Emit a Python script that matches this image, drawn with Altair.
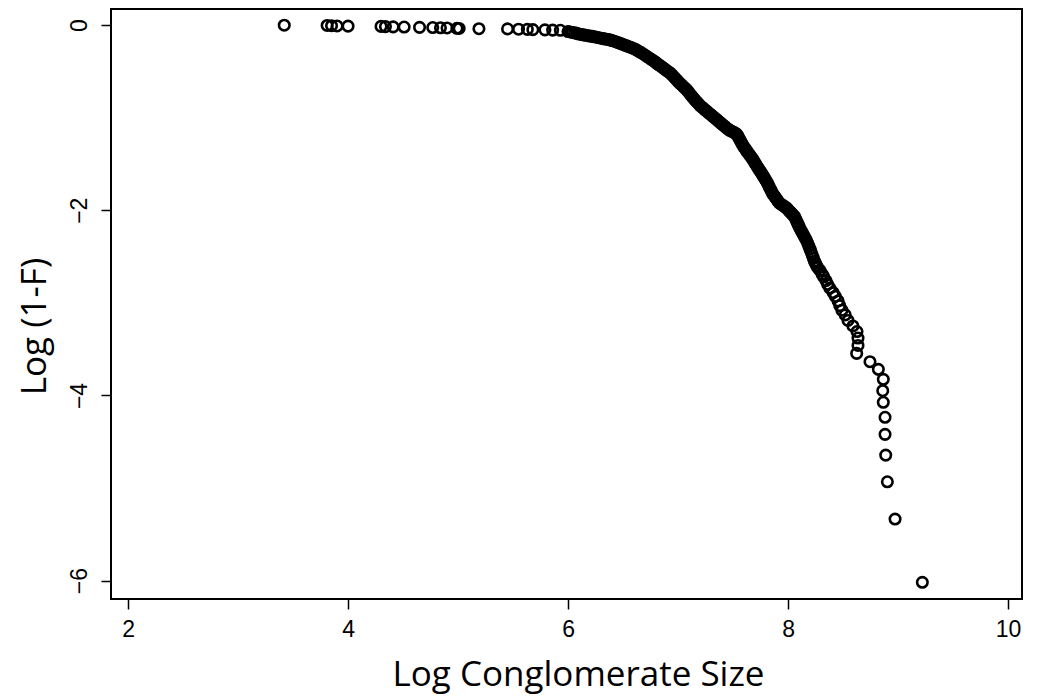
import altair as alt
import pandas as pd

# Sparse points near the top (Log (1-F) ~ 0)
sparse_x = [3.42, 3.81, 3.85, 3.90, 4.00, 4.30, 4.34, 4.41, 4.51, 4.65, 4.77, 4.84,
            4.90, 4.99, 5.01, 5.19, 5.45, 5.55, 5.63, 5.68, 5.79, 5.86, 5.93]
sparse_y = [-0.002, -0.005, -0.007, -0.010, -0.012, -0.015, -0.017, -0.020, -0.022,
            -0.025, -0.027, -0.030, -0.032, -0.035, -0.037, -0.040, -0.042, -0.045,
            -0.047, -0.050, -0.052, -0.055, -0.057]

# Dense band of points
band_x = [6.00, 6.02, 6.04, 6.06, 6.08, 6.10, 6.12, 6.14, 6.16, 6.18, 6.20, 6.22, 6.24,
          6.26, 6.28, 6.30, 6.32, 6.34, 6.36, 6.38,
          6.40, 6.42, 6.44, 6.46, 6.48, 6.50, 6.52, 6.54, 6.56, 6.58, 6.60, 6.62, 6.64,
          6.66, 6.68, 6.70, 6.72, 6.74, 6.76, 6.78,
          6.795, 6.81, 6.825, 6.84, 6.855, 6.87, 6.885, 6.90, 6.915, 6.93, 6.945, 6.96,
          6.975, 6.99, 7.005, 7.02, 7.035, 7.05, 7.065, 7.08, 7.095, 7.11, 7.125, 7.14,
          7.155, 7.17, 7.185, 7.20, 7.215, 7.23, 7.245, 7.26, 7.275, 7.29, 7.305, 7.32,
          7.335, 7.35, 7.365, 7.38,
          7.395, 7.41, 7.425, 7.44, 7.455, 7.47, 7.485, 7.50, 7.515, 7.53, 7.54, 7.55,
          7.56, 7.57, 7.58, 7.59, 7.60, 7.61, 7.62, 7.63, 7.64, 7.65, 7.66, 7.67, 7.68,
          7.69, 7.70, 7.71, 7.72, 7.73, 7.74, 7.75, 7.76, 7.77, 7.78, 7.79, 7.80, 7.81,
          7.82, 7.83, 7.84, 7.85, 7.86, 7.87, 7.88, 7.89, 7.90, 7.91, 7.92, 7.935, 7.95,
          7.965, 7.98, 7.99,
          8.00, 8.01, 8.02, 8.03, 8.04, 8.05, 8.06, 8.068, 8.076, 8.084, 8.092, 8.10,
          8.11, 8.12, 8.13, 8.14, 8.15, 8.16, 8.17, 8.18, 8.19, 8.20, 8.21, 8.22, 8.23,
          8.24, 8.25, 8.26, 8.27]
band_y = [-0.070, -0.075, -0.080, -0.085, -0.090, -0.097, -0.102, -0.106, -0.110, -0.115,
          -0.119, -0.123, -0.127, -0.132, -0.137, -0.142, -0.147, -0.151, -0.156, -0.160,
          -0.168, -0.175, -0.183, -0.192, -0.201, -0.210, -0.219, -0.228, -0.237, -0.246,
          -0.256, -0.268, -0.281, -0.295, -0.310, -0.326, -0.342, -0.358, -0.373, -0.388,
          -0.402, -0.416, -0.429, -0.442, -0.455, -0.468, -0.481, -0.494, -0.507, -0.520,
          -0.539, -0.558, -0.577, -0.596, -0.616, -0.633, -0.650, -0.667, -0.684, -0.700,
          -0.722, -0.745, -0.768, -0.790, -0.810, -0.830, -0.850, -0.870, -0.885, -0.900,
          -0.915, -0.930, -0.945, -0.960, -0.975, -0.990, -1.005, -1.020, -1.035, -1.050,
          -1.065, -1.080, -1.095, -1.110, -1.125, -1.137, -1.146, -1.155, -1.165, -1.175,
          -1.190, -1.212, -1.234, -1.256, -1.278, -1.300, -1.318, -1.335, -1.352, -1.370,
          -1.386, -1.402, -1.418, -1.434, -1.450, -1.470, -1.490, -1.510, -1.530, -1.548,
          -1.566, -1.584, -1.602, -1.620, -1.640, -1.660, -1.680, -1.700, -1.724, -1.748,
          -1.772, -1.796, -1.820, -1.837, -1.853, -1.870, -1.887, -1.903, -1.920, -1.933,
          -1.946, -1.958, -1.970, -1.980,
          -1.993, -2.006, -2.019, -2.032, -2.045, -2.058, -2.070, -2.091, -2.112, -2.133,
          -2.154, -2.175, -2.200, -2.222, -2.243, -2.265, -2.287, -2.308, -2.330, -2.360,
          -2.390, -2.420, -2.450, -2.483, -2.516, -2.550, -2.575, -2.600, -2.620]

# Separated points along the tail
tail_x = [8.29, 8.31, 8.325, 8.345, 8.36, 8.38, 8.41, 8.43, 8.455, 8.47, 8.49, 8.52,
          8.545, 8.59, 8.627, 8.636, 8.636, 8.624,
          8.745, 8.821, 8.866, 8.861, 8.866, 8.882, 8.882, 8.888, 8.903, 8.973, 9.221]
tail_y = [-2.65, -2.69, -2.72, -2.76, -2.80, -2.84, -2.89, -2.93, -2.98, -3.03, -3.08,
          -3.13, -3.19, -3.25, -3.31, -3.38, -3.46, -3.546,
          -3.636, -3.718, -3.826, -3.949, -4.074, -4.236, -4.42, -4.644, -4.932, -5.335,
          -6.018]

x_ticks = [2, 4, 6, 8, 10]
y_ticks = [0, -2, -4, -6]

df = pd.DataFrame({
    "x": sparse_x + band_x + tail_x,
    "y": sparse_y + band_y + tail_y,
})

chart = alt.Chart(df).mark_point(
    shape="circle", filled=False, color="black", strokeWidth=2.6, size=110, opacity=1
).encode(
    x=alt.X("x:Q", scale=alt.Scale(domain=[1.845, 10.127], nice=False, zero=False),
            axis=alt.Axis(values=x_ticks, title="Log Conglomerate Size", grid=False,
                          domain=False, tickSize=10, tickWidth=1.5, tickColor="black",
                          labelFont="Liberation Sans", labelFontSize=23, labelColor="black",
                          labelPadding=9, labelAngle=0,
                          titleFont="Open Sans", titleFontSize=35, titleFontWeight="normal",
                          titleColor="black", titleBaseline="alphabetic", titleAlign="center",
                          titleX=467, titleY=86)),
    y=alt.Y("y:Q", scale=alt.Scale(domain=[-6.198, 0.173], nice=False, zero=False),
            axis=alt.Axis(values=y_ticks, title="Log (1-F)", grid=False,
                          domain=False, tickSize=10, tickWidth=1.5, tickColor="black",
                          labelFont="Liberation Sans", labelFontSize=23, labelColor="black",
                          labelPadding=10, labelAngle=270, labelAlign="center",
                          labelBaseline="bottom",
                          titleFont="Open Sans", titleFontSize=35, titleFontWeight="normal",
                          titleColor="black", titleAngle=270, titleBaseline="alphabetic",
                          titleAlign="center", titleX=-66, titleY=317)),
).properties(
    width=911,
    height=590,
    autosize=alt.AutoSizeParams(type="none"),
    padding={"left": 111, "top": 9, "right": 21, "bottom": 97},
    background="white",
).configure_view(
    stroke="black", strokeWidth=2
)

chart.save("out.html", embed_options={"renderer": "svg", "actions": False})
